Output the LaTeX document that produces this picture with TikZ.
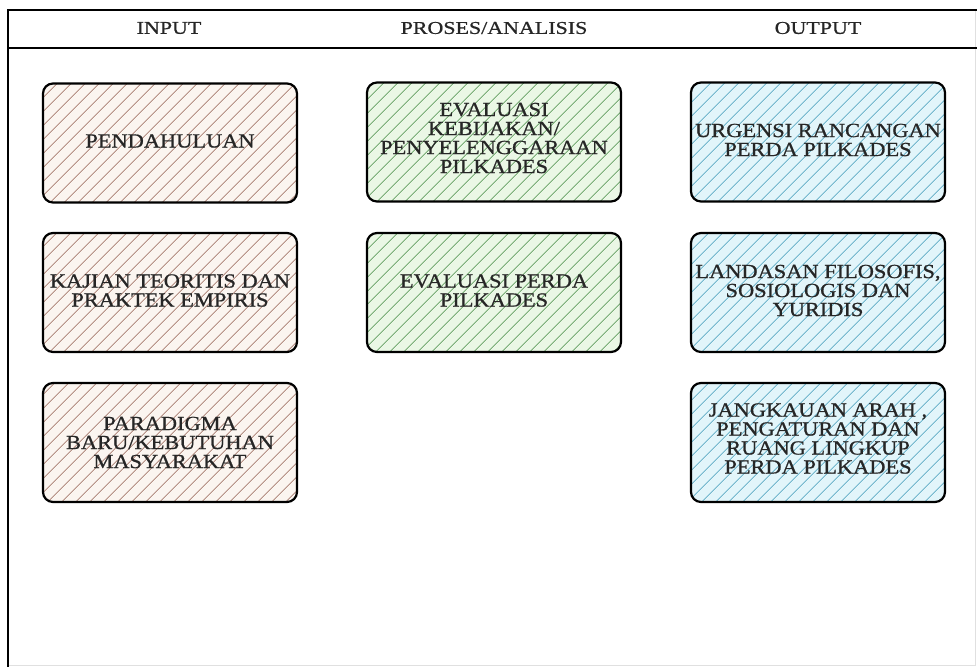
\documentclass[tikz,border=0pt]{standalone}
\usepackage{fontspec}
\setmainfont{Liberation Serif}
\newfontfamily\headfont[FakeStretch=1.22,FakeBold=0.8]{Liberation Serif}
\newfontfamily\boxfont[FakeStretch=1.12,FakeBold=0.8]{Liberation Serif}
\usetikzlibrary{positioning,patterns.meta}
\definecolor{hatchbrown}{RGB}{150,100,85}
\definecolor{bgbrown}{RGB}{251,245,240}
\definecolor{hatchgreen}{RGB}{70,140,70}
\definecolor{bggreen}{RGB}{234,247,229}
\definecolor{hatchblue}{RGB}{65,155,185}
\definecolor{bgblue}{RGB}{226,245,250}

\begin{document}
\begin{tikzpicture}[x=1pt,y=1pt,
    box/.style 2 args={draw=black, line width=2.2pt, rounded corners=10pt,
        minimum width=254pt, minimum height=119pt, inner sep=0pt,
        preaction={fill=#2},
        pattern={Lines[angle=45,distance=10.5pt,line width=0.9pt]}, pattern color=#1},
    txt/.style={align=center, inner sep=0pt, text=black!85,
        font=\boxfont\fontsize{20}{19}\selectfont},
    head/.style={inner sep=0pt, text=black!85, font=\headfont\fontsize{18}{20}\selectfont}]
    \useasboundingbox (0,0) rectangle (977,-667);
    % frame begin
    \draw[black!12, line width=1pt] (975,-10) -- (975,-665) -- (8,-665);
    \draw[line width=2pt] (977,-10) -- (8,-10) -- (8,-667);
    \draw[line width=2pt] (8,-48) -- (977,-48);
    \node[head] (input) at (169,-28) {INPUT};
    \node[head] (proses) at (494,-28) {PROSES/ANALISIS};
    \node[head] (output) at (818,-28) {OUTPUT};
    % frame end
    % input begin
    \node[box={hatchbrown}{bgbrown}] (pend) at (170,-143) {};
    \node[txt] at ([yshift=2pt]pend) {PENDAHULUAN};
    \node[box={hatchbrown}{bgbrown}] (kajian) at (170,-292.5) {};
    \node[txt] at ([yshift=2pt]kajian) {KAJIAN TEORITIS DAN\\PRAKTEK EMPIRIS};
    \node[box={hatchbrown}{bgbrown}] (para) at (170,-442.5) {};
    \node[txt] at ([yshift=0pt]para) {PARADIGMA\\BARU/KEBUTUHAN\\MASYARAKAT};
    % input end
    % proses begin
    \node[box={hatchgreen}{bggreen}] (evkeb) at (494,-142) {};
    \node[txt] at ([yshift=4pt]evkeb) {EVALUASI\\KEBIJAKAN/\\PENYELENGGARAAN\\PILKADES};
    \node[box={hatchgreen}{bggreen}] (evperda) at (494,-292.5) {};
    \node[txt] at ([yshift=2pt]evperda) {EVALUASI PERDA\\PILKADES};
    % proses end
    % output begin
    \node[box={hatchblue}{bgblue}] (urg) at (818,-142) {};
    \node[txt] at ([yshift=2pt]urg) {URGENSI RANCANGAN\\PERDA PILKADES};
    \node[box={hatchblue}{bgblue}] (land) at (818,-292.5) {};
    \node[txt] at ([yshift=2pt]land) {LANDASAN FILOSOFIS,\\SOSIOLOGIS DAN\\YURIDIS};
    \node[box={hatchblue}{bgblue}] (jang) at (818,-442.5) {};
    \node[txt] at ([yshift=4pt]jang) {JANGKAUAN ARAH ,\\PENGATURAN DAN\\RUANG LINGKUP\\PERDA PILKADES};
    % output end
\end{tikzpicture}
\end{document}
